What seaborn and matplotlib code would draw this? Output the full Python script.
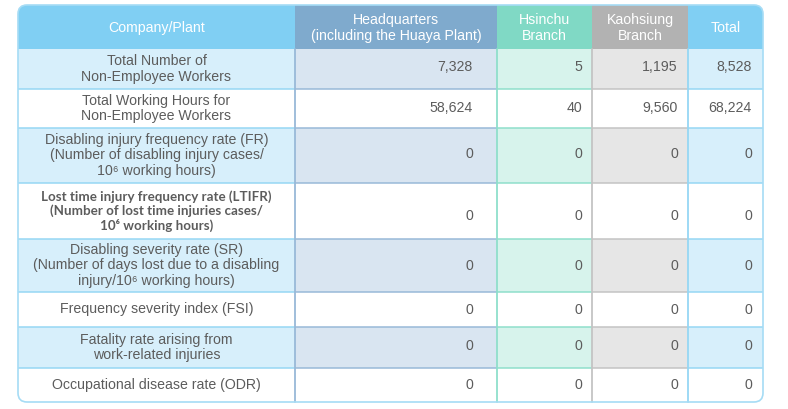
import matplotlib.pyplot as plt
import pandas as pd
import seaborn as sns
from matplotlib.patches import FancyBboxPatch, Rectangle

# data
corner_label = "Company/Plant"
columns = ["Headquarters\n(including the Huaya Plant)", "Hsinchu\nBranch", "Kaohsiung\nBranch", "Total"]
row_labels = [
    "Total Number of\nNon-Employee Workers",
    "Total Working Hours for\nNon-Employee Workers",
    "Disabling injury frequency rate (FR)\n(Number of disabling injury cases/\n10\u2076 working hours)",
    "Lost time injury frequency rate (LTIFR)\n(Number of lost time injuries cases/\n10\u2076 working hours)",
    "Disabling severity rate (SR)\n(Number of days lost due to a disabling\ninjury/10\u2076 working hours)",
    "Frequency severity index (FSI)",
    "Fatality rate arising from\nwork-related injuries",
    "Occupational disease rate (ODR)",
]
hq = [7328, 58624, 0, 0, 0, 0, 0, 0]
hsinchu = [5, 40, 0, 0, 0, 0, 0, 0]
kaohsiung = [1195, 9560, 0, 0, 0, 0, 0, 0]
total = [8528, 68224, 0, 0, 0, 0, 0, 0]

df = pd.DataFrame({c: v for c, v in zip(columns, [hq, hsinchu, kaohsiung, total])}, index=row_labels)

# layout (pixels)
col_edges = [18, 295, 497, 592, 688, 763]
row_edges = [5, 49, 89, 128, 183, 239, 292, 327, 368, 402]
val_pad = [24, 10, 10, 11]
val_dy = [-2, -1, -2, 5, 0, 1, -2, 0]

head_colors = ["#80cff3", "#7faacd", "#80d9c5", "#b2b2b2", "#80cff3"]
band_colors = ["#d7effb", "#d9e5f1", "#d7f3ec", "#e6e6e6", "#d7effb"]
line_colors = ["#96d7f4", "#98b9d8", "#8fdfcb", "#c4c4c4", "#96d7f4"]
txt = "#5c5c5c"

sns.set_theme(style="white")
plt.rcParams["font.family"] = ["Liberation Sans", "DejaVu Sans"]

fig = plt.figure(figsize=(7.88, 4.09), dpi=100)
ax = fig.add_axes([0, 0, 1, 1])
ax.set_xlim(0, 788)
ax.set_ylim(409, 0)
ax.axis("off")

frame = FancyBboxPatch((col_edges[0], row_edges[0]), col_edges[-1] - col_edges[0],
                       row_edges[-1] - row_edges[0],
                       boxstyle="round,pad=0,rounding_size=9",
                       facecolor="white", edgecolor="none", zorder=0)
ax.add_patch(frame)

def cell(x0, x1, y0, y1, color):
    r = Rectangle((x0, y0), x1 - x0, y1 - y0, facecolor=color, edgecolor="none", zorder=1)
    ax.add_patch(r)
    r.set_clip_path(frame)

# header
for j in range(5):
    cell(col_edges[j], col_edges[j + 1], row_edges[0], row_edges[1], head_colors[j])
heads = [corner_label] + columns
for j, h in enumerate(heads):
    ax.text((col_edges[j] + col_edges[j + 1]) / 2, (row_edges[0] + row_edges[1]) / 2 + 1, h,
            ha="center", va="center", color="white", fontsize=10.2, linespacing=1.14, zorder=3)

# body
for i, lab in enumerate(df.index):
    y0, y1 = row_edges[i + 1], row_edges[i + 2]
    if i % 2 == 0:
        for j in range(5):
            cell(col_edges[j], col_edges[j + 1], y0, y1, band_colors[j])
    yc = (y0 + y1) / 2
    if i == 3:
        ax.text((col_edges[0] + col_edges[1]) / 2, yc, lab, ha="center", va="center",
                color=txt, fontsize=9.6, fontweight="bold", linespacing=1.14,
                family=["Lato", "DejaVu Sans"], zorder=3)
    else:
        ax.text((col_edges[0] + col_edges[1]) / 2, yc, lab, ha="center", va="center",
                color=txt, fontsize=10.2, linespacing=1.14, zorder=3)
    for j, col in enumerate(df.columns):
        ax.text(col_edges[j + 2] - val_pad[j], yc + val_dy[i], f"{df.loc[lab, col]:,}",
                ha="right", va="center", color=txt, fontsize=10.2, zorder=3)

# grid lines
for i in range(2, len(row_edges) - 1):
    for j in range(5):
        ax.plot([col_edges[j], col_edges[j + 1]], [row_edges[i], row_edges[i]],
                color=line_colors[j], lw=1.1, zorder=2, solid_capstyle="butt")
for j in range(1, 5):
    ax.plot([col_edges[j], col_edges[j]], [row_edges[1], row_edges[-1]],
            color=line_colors[j], lw=1.3, zorder=2)

border = FancyBboxPatch((col_edges[0], row_edges[0]), col_edges[-1] - col_edges[0],
                        row_edges[-1] - row_edges[0],
                        boxstyle="round,pad=0,rounding_size=9",
                        facecolor="none", edgecolor="#a6dcf5", lw=1.2, zorder=4)
ax.add_patch(border)

fig.savefig("out.png", dpi=100)
